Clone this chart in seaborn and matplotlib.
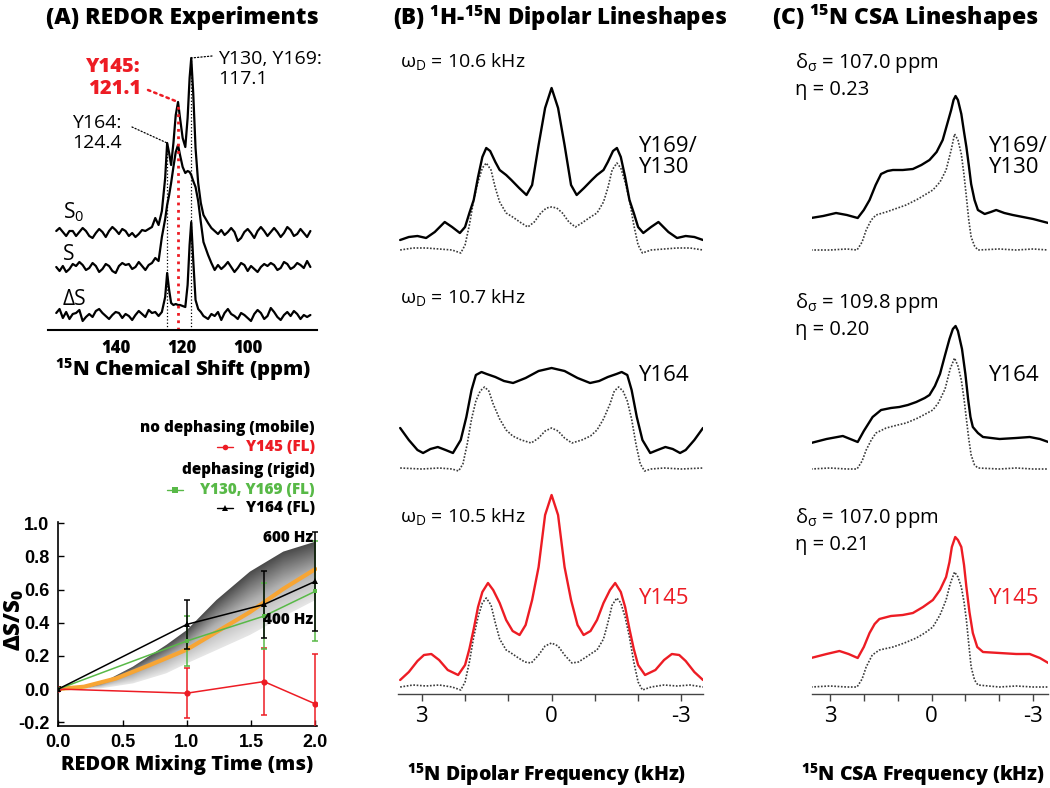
import numpy as np
import pandas as pd
import matplotlib
matplotlib.use('Agg')
import matplotlib.pyplot as plt
import seaborn as sns
from matplotlib.lines import Line2D
from matplotlib.colors import LinearSegmentedColormap

W, H = 1050, 788
RED = '#ED1C24'
GREEN = '#58B947'
ORANGE = '#F7A534'
DOT = '#3a3a3a'

# ---------------- (A) REDOR spectra: height of each trace above its own baseline
ppm_left = np.arange(158, 128, -1)
ppm_peaks = [128, 127, 126, 125, 124.4, 123.8, 123.2, 122.5, 121.8, 121.1, 120.5,
             119.7, 118.9, 118.2, 117.6, 117.1, 116.5, 115.8, 115, 114.2, 113.4]
ppm_right = np.arange(112, 80, -1)

s0_left = [2, 5, 1, -3, 2, 2, -3, 1, 5, 2, -3, -5, 0, 4, 1, -4, 2, 6, 3, -1, 4, 2, -3, 0, -4, -1, 3, 2, 4, 6]
s0_peak = [15, 8, 22, 55, 90, 80, 68, 90, 118, 131, 115, 95, 86, 115, 155, 175, 140, 85, 50, 30, 18]
s0_right = [10, 5, 2, -1, 3, -2, 1, 5, 1, -8, -5, 1, 4, 0, -5, 2, 6, 2, -3, 1, 5, 1, -4, 0, 6, 3, -3, -1, 4, 0, -4, 2]

s_left = [0, -4, 1, -5, -2, 3, 1, 5, 2, -3, -1, 4, 1, -5, -2, 3, 1, -4, -6, 1, 4, 2, 3, -2, 0, 5, 1, -3, 2, 4]
s_peak = [9, 6, 30, 48, 62, 72, 84, 100, 115, 122, 112, 100, 94, 96, 95, 92, 86, 80, 66, 45, 25]
s_right = [12, 4, -3, 2, -2, 1, 5, 0, -5, -1, 4, 2, -4, 1, -2, -5, 0, 3, 1, 4, 2, -3, -1, 5, 3, -2, 0, 4, 2, -1, 6, 0]

ds_left = [2, 6, -3, 3, -4, 1, 2, 5, -6, -2, 1, -2, 4, 6, 2, -1, -4, 0, 3, 2, -3, 1, -1, -5, 0, 4, 1, -2, 5, 2]
ds_peak = [3, -1, 3, 18, 42, 25, 12, 10, 11, 10, 10, 9, 8, 30, 70, 93, 55, 15, 6, 3, -1]
ds_right = [-4, 1, -1, 3, -5, 2, 6, 1, -1, -4, 2, 0, -3, -6, 1, 5, 2, -4, -1, 7, 3, -2, -5, 0, 3, -1, 4, 1, -4, 0, -2, 0]

trace_names = ['S$_\\mathregular{0}$', 'S', '\u0394S']
trace_offsets = [97, 63, 15]
peak_ppm = [124.4, 121.1, 117.1]
peak_labels = ['Y164:\n124.4', 'Y145:\n121.1', 'Y130, Y169:\n117.1']

# ---------------- (A) REDOR dephasing
t_exp = [0.0, 1.0, 1.6, 2.0]
y145 = [0.0, -0.025, 0.045, -0.09]
y130_169 = [0.0, 0.29, 0.44, 0.59]
y164 = [0.0, 0.39, 0.51, 0.65]
err145 = [0.01, 0.15, 0.20, 0.30]
err130_169 = [0.01, 0.15, 0.20, 0.30]
err164 = [0.01, 0.15, 0.20, 0.30]

t_sim = [0.0, 0.2, 0.45, 0.71, 1.0, 1.23, 1.49, 1.75, 2.0]
sim_500 = [0.0, 0.014, 0.064, 0.144, 0.238, 0.344, 0.464, 0.604, 0.724]
t_band = [0.2, 0.33, 0.58, 0.84, 1.0, 1.23, 1.49, 1.75, 2.0]
sim_600 = [0.0, 0.034, 0.135, 0.266, 0.356, 0.537, 0.708, 0.829, 0.889]
sim_400 = [0.0, 0.004, 0.034, 0.095, 0.155, 0.235, 0.326, 0.437, 0.537]

# ---------------- (B) 1H-15N dipolar lineshapes (kHz, height above baseline)
dip_x_top = [3.5, 3.3, 3.1, 2.9, 2.7, 2.47, 2.3, 2.12, 2.0, 1.9, 1.8, 1.7, 1.6, 1.51, 1.42, 1.3, 1.2, 1.05, 0.93,
             0.75, 0.58, 0.45, 0.3, 0.15, 0.0, -0.15, -0.3, -0.45, -0.58, -0.75, -0.93, -1.05, -1.2, -1.3, -1.42,
             -1.51, -1.6, -1.7, -1.8, -1.9, -2.0, -2.12, -2.3, -2.47, -2.7, -2.9, -3.1, -3.3, -3.5]
dip_exp_top = [10, 13, 14, 12, 18, 28, 23, 17, 23, 37, 50, 73, 93, 102, 99, 88, 80, 75, 70, 62, 55, 65, 105, 142,
               162, 142, 105, 65, 55, 62, 70, 75, 80, 88, 99, 102, 93, 73, 50, 37, 23, 17, 23, 28, 18, 12, 14, 13, 10]
dip_xs_top = [3.5, 3.2, 2.9, 2.6, 2.3, 2.1, 2.0, 1.9, 1.8, 1.7, 1.6, 1.51, 1.4, 1.3, 1.2, 1.05, 0.9, 0.7, 0.55,
              0.4, 0.25, 0.12, 0.0, -0.12, -0.25, -0.4, -0.55, -0.7, -0.9, -1.05, -1.2, -1.3, -1.4, -1.51, -1.6,
              -1.7, -1.8, -1.9, -2.0, -2.1, -2.3, -2.6, -2.9, -3.2, -3.5]
dip_sim_top = [0, 2, 2, 1, 0, -3, 5, 25, 50, 68, 82, 87, 80, 62, 48, 37, 33, 27, 23, 28, 37, 42, 43, 42, 37, 28,
               23, 27, 33, 37, 48, 62, 80, 87, 82, 68, 50, 25, 5, -3, 0, 1, 2, 2, 0]

dip_x_mid = [3.5, 3.3, 3.1, 2.97, 2.8, 2.63, 2.45, 2.28, 2.1, 1.97, 1.85, 1.75, 1.62, 1.5, 1.3, 1.1, 0.89, 0.6,
             0.3, 0.0, -0.3, -0.6, -0.89, -1.1, -1.3, -1.5, -1.62, -1.75, -1.85, -1.97, -2.1, -2.28, -2.45, -2.63,
             -2.8, -2.97, -3.1, -3.3, -3.5]
dip_exp_mid = [41, 29, 19, 16, 20, 22, 19, 16, 29, 52, 79, 94, 97, 95, 92, 88, 86, 91, 98, 101, 98, 91, 86, 88,
               92, 95, 97, 94, 79, 52, 29, 16, 19, 22, 20, 16, 19, 29, 41]
dip_xs_mid = [3.5, 3.0, 2.6, 2.3, 2.15, 2.05, 1.95, 1.85, 1.75, 1.65, 1.55, 1.45, 1.35, 1.2, 1.05, 0.9, 0.7, 0.47,
              0.3, 0.15, 0.0, -0.15, -0.3, -0.47, -0.7, -0.9, -1.05, -1.2, -1.35, -1.45, -1.55, -1.65, -1.75,
              -1.85, -1.95, -2.05, -2.15, -2.3, -2.6, -3.0, -3.5]
dip_sim_mid = [1, 0, 1, 0, -2, 5, 25, 50, 68, 78, 82, 78, 65, 50, 39, 33, 29, 26, 31, 38, 41, 38, 31, 26, 29, 33,
               39, 50, 65, 78, 82, 78, 68, 50, 25, 5, -2, 0, 1, 0, 1]

dip_x_bot = [3.5, 3.3, 3.1, 2.95, 2.78, 2.6, 2.4, 2.16, 2.0, 1.9, 1.8, 1.7, 1.6, 1.47, 1.35, 1.2, 1.05, 0.9, 0.74,
             0.6, 0.45, 0.3, 0.15, 0.0, -0.15, -0.3, -0.45, -0.6, -0.74, -0.9, -1.05, -1.2, -1.35, -1.47, -1.6,
             -1.7, -1.8, -1.9, -2.0, -2.16, -2.4, -2.6, -2.78, -2.95, -3.1, -3.3, -3.5]
dip_exp_bot = [7, 15, 26, 32, 33, 27, 17, 12, 22, 38, 58, 80, 95, 104, 97, 84, 67, 56, 52, 62, 87, 120, 172, 192,
               172, 120, 87, 62, 52, 56, 67, 84, 97, 104, 95, 80, 58, 38, 22, 12, 17, 27, 33, 32, 26, 15, 7]
dip_xs_bot = [3.5, 3.2, 2.9, 2.6, 2.3, 2.1, 2.0, 1.9, 1.8, 1.7, 1.6, 1.51, 1.4, 1.3, 1.2, 1.05, 0.97, 0.8, 0.62,
              0.47, 0.3, 0.15, 0.0, -0.15, -0.3, -0.47, -0.62, -0.8, -0.97, -1.05, -1.2, -1.3, -1.4, -1.51, -1.6,
              -1.7, -1.8, -1.9, -2.0, -2.1, -2.3, -2.6, -2.9, -3.2, -3.5]
dip_sim_bot = [0, 2, 1, 2, 0, -3, 5, 25, 50, 70, 84, 89, 82, 64, 48, 37, 35, 30, 25, 24, 32, 41, 44, 41, 32, 24,
               25, 30, 35, 37, 48, 64, 82, 89, 84, 70, 50, 25, 5, -3, 0, 2, 1, 2, 0]

dip_labels = ['10.6', '10.7', '10.5']

# ---------------- (C) 15N CSA lineshapes (kHz, height above baseline)
csa_x_top = [3.56, 3.2, 2.82, 2.5, 2.18, 2.0, 1.83, 1.65, 1.49, 1.3, 1.14, 0.85, 0.55, 0.3, 0.06, -0.15, -0.33,
             -0.48, -0.58, -0.65, -0.71, -0.78, -0.88, -0.96, -1.03, -1.1, -1.17, -1.27, -1.37, -1.57, -1.75,
             -1.91, -2.15, -2.4, -2.7, -3.0, -3.45]
csa_exp_top = [32, 34, 37, 35, 32, 40, 50, 65, 76, 79, 80, 80, 81, 85, 90, 98, 110, 128, 140, 150, 154, 150, 136,
               118, 103, 85, 66, 50, 40, 36, 38, 40, 37, 35, 33, 31, 27]
csa_xs_top = [3.56, 3.0, 2.5, 2.2, 2.05, 1.93, 1.78, 1.64, 1.34, 1.0, 0.75, 0.4, -0.04, -0.25, -0.43, -0.58, -0.68,
              -0.78, -0.88, -0.96, -1.03, -1.1, -1.17, -1.27, -1.37, -2.0, -2.5, -3.0, -3.45]
csa_sim_top = [0, 0, 1, 0, 8, 20, 30, 35, 38, 42, 45, 51, 60, 68, 80, 100, 116, 110, 96, 75, 53, 30, 13, 4, 0, 1,
               0, 1, 0]

csa_x_mid = [3.56, 3.1, 2.62, 2.4, 2.18, 2.0, 1.87, 1.74, 1.49, 1.2, 0.95, 0.7, 0.45, 0.2, 0.06, -0.1, -0.25, -0.4,
             -0.53, -0.63, -0.71, -0.78, -0.9, -1.0, -1.08, -1.15, -1.22, -1.37, -1.52, -2.01, -2.5, -2.9, -3.2,
             -3.45]
csa_exp_mid = [26, 30, 33, 30, 27, 38, 45, 52, 59, 61, 62, 64, 67, 71, 74, 83, 95, 114, 130, 140, 143, 138, 120,
               95, 70, 52, 42, 36, 32, 30, 31, 32, 30, 27]
csa_xs_mid = [3.56, 3.0, 2.5, 2.2, 2.05, 1.93, 1.78, 1.64, 1.34, 1.0, 0.75, 0.4, -0.04, -0.2, -0.4, -0.55, -0.68,
              -0.78, -0.88, -0.96, -1.03, -1.1, -1.17, -1.27, -1.37, -2.0, -2.5, -3.0, -3.45]
csa_sim_mid = [0, 1, 0, 0, 8, 19, 29, 36, 41, 44, 46, 51, 59, 66, 80, 100, 111, 103, 89, 70, 50, 30, 14, 4, 1, 0,
               1, 0, 0]

csa_x_bot = [3.56, 3.1, 2.72, 2.45, 2.18, 2.0, 1.83, 1.68, 1.54, 1.2, 0.85, 0.55, 0.25, -0.04, -0.25, -0.43, -0.53,
             -0.6, -0.7, -0.78, -0.88, -0.96, -1.03, -1.12, -1.22, -1.35, -1.52, -2.01, -2.5, -2.9, -3.2, -3.45]
csa_exp_bot = [29, 33, 36, 33, 29, 40, 54, 63, 68, 71, 72, 74, 80, 87, 97, 110, 125, 140, 150, 147, 140, 122, 100,
               75, 54, 40, 35, 34, 33, 33, 29, 24]
csa_xs_bot = [3.56, 3.0, 2.5, 2.2, 2.05, 1.93, 1.75, 1.54, 1.14, 0.8, 0.45, 0.2, -0.04, -0.25, -0.43, -0.55, -0.68,
              -0.78, -0.88, -0.96, -1.03, -1.1, -1.17, -1.27, -1.37, -2.0, -2.5, -3.0, -3.45]
csa_sim_bot = [0, 1, 0, 0, 8, 20, 32, 37, 40, 44, 49, 54, 60, 72, 87, 103, 115, 110, 100, 85, 67, 43, 20, 7, 2, 0,
               1, 0, 0]

csa_delta = ['107.0', '109.8', '107.0']
csa_eta = ['0.23', '0.20', '0.21']
residues = ['Y169/\nY130', 'Y164', 'Y145']
stack_offsets = [444, 225, 7]

# ---------------- figure
sns.set_theme(style='white')
plt.rcParams['font.family'] = ['Open Sans', 'DejaVu Sans']
plt.rcParams['axes.unicode_minus'] = False
plt.rcParams['text.color'] = 'black'
plt.rcParams['xtick.color'] = 'black'
plt.rcParams['ytick.color'] = 'black'
fig = plt.figure(figsize=(10.5, 7.88), dpi=100)


def rect(l, t, r, b):
    return [l / W, 1 - b / H, (r - l) / W, (b - t) / H]


def fxy(px, py):
    return (px / W, 1 - py / H)


def ftext(px, py, s, **kw):
    fig.text(px / W, 1 - py / H, s, **kw)


def trace(ax, x, y, offset, color, ls='-', lw=1.6):
    df = pd.DataFrame({'x': x, 'y': np.asarray(y, float) + offset})
    sns.lineplot(data=df, x='x', y='y', ax=ax, color=color, lw=lw, linestyle=ls,
                 sort=False, estimator=None)
    ax.set(xlabel='', ylabel='')


HEAVY = 800

# panel titles
ftext(182, 18, '(A) REDOR Experiments', ha='center', va='center', size=16.5, weight=HEAVY)
ftext(560, 18, '(B) $^\\mathregular{1}$H-$^\\mathregular{15}$N Dipolar Lineshapes', ha='center', va='center',
      size=16, weight=HEAVY)
ftext(905, 18, '(C) $^\\mathregular{15}$N CSA Lineshapes', ha='center', va='center', size=16.5, weight=HEAVY)

# ---- (A) spectra
axA = fig.add_axes(rect(48, 40, 317, 330))
ppm = np.concatenate([ppm_left, ppm_peaks, ppm_right])
spectra = [s0_left + s0_peak + s0_right, s_left + s_peak + s_right, ds_left + ds_peak + ds_right]
for vals, off in zip(spectra, trace_offsets):
    trace(axA, ppm, vals, off, 'black', lw=1.6)
axA.set_xlim(160.5, 79)
axA.set_ylim(0, 290)
sns.despine(ax=axA, left=True)
axA.spines['bottom'].set_color('black')
axA.spines['bottom'].set_linewidth(1.5)
axA.set_yticks([])
axA.set_xticks([140, 120, 100])
axA.set_xticklabels(['140', '120', '100'], weight=HEAVY, size=12)
axA.tick_params(axis='x', length=0, pad=7)

s0_top = [s0_peak[ppm_peaks.index(p)] + trace_offsets[0] for p in peak_ppm]
axA.vlines([peak_ppm[0], peak_ppm[2]], 0, [s0_top[0], s0_top[2]], colors='black', linestyles=':', lw=0.9)
axA.vlines(peak_ppm[1], 0, s0_top[1], colors=RED, linestyles=':', lw=2)

label_px = [(72, 133), (141, 78), (218, 69)]
leader_px = [(132, 127), (148, 90), (212, 56)]
for i, (p, top, lab) in enumerate(zip(peak_ppm, s0_top, peak_labels)):
    red = i == 1
    ftext(*label_px[i], lab, ha='right' if red else 'left', va='center', size=14.5 if red else 14,
          linespacing=1.15, color=RED if red else 'black', weight=HEAVY if red else 'normal')
    axA.annotate('', xy=(p, top), xycoords='data', xytext=fxy(*leader_px[i]), textcoords='figure fraction',
                 arrowprops=dict(arrowstyle='-', linestyle=':', color=RED if red else 'black',
                                 lw=1.8 if red else 0.9, shrinkA=0, shrinkB=0))
for name, py in zip(trace_names, [212, 255, 300]):
    ftext(63, py, name, ha='left', va='center', size=15)
ftext(183, 370, '$^\\mathregular{15}$N Chemical Shift (ppm)', ha='center', va='center', size=14.5, weight=HEAVY)

# ---- (A) REDOR curves
axR = fig.add_axes(rect(57.7, 521.6, 316.7, 725.5))
poly = axR.fill_between(t_band, sim_400, sim_600, color='none', lw=0)
tt = np.linspace(0, 2, 300)
yy = np.linspace(-0.05, 1.0, 300)
T, Y = np.meshgrid(tt, yy)
lo = np.interp(T, t_band, sim_400)
hi = np.interp(T, t_band, sim_600)
frac = np.clip((Y - lo) / np.maximum(hi - lo, 1e-3), 0, 1)
band_cmap = LinearSegmentedColormap.from_list('band', ['#e6e6e6', '#b0b0b0', '#474747'])
img = axR.imshow(frac, extent=[0, 2, -0.05, 1.0], origin='lower', cmap=band_cmap, vmin=0, vmax=1,
                 aspect='auto', zorder=1)
img.set_clip_path(poly.get_paths()[0], transform=axR.transData)
sns.lineplot(x=t_sim, y=sim_500, ax=axR, color=ORANGE, lw=3, zorder=2)

series = [(y145, err145, RED, 'o', 4.5), (y130_169, err130_169, GREEN, 's', 3.5), (y164, err164, 'black', '^', 4)]
for yv, ev, col, mk, ms in series:
    axR.errorbar(t_exp, yv, yerr=ev, fmt='none', ecolor=col, elinewidth=1.1, capsize=2.5, capthick=1.1, zorder=3)
    sns.lineplot(x=t_exp, y=yv, ax=axR, color=col, lw=1.1, marker=mk, markersize=ms, markeredgewidth=0,
                 zorder=4)
axR.set_xlim(-0.005, 2.01)
axR.set_ylim(-0.22, 1.01)
axR.set_xticks([0.0, 0.5, 1.0, 1.5, 2.0])
axR.set_xticklabels(['0.0', '0.5', '1.0', '1.5', '2.0'])
axR.set_yticks([-0.2, 0.0, 0.2, 0.4, 0.6, 0.8, 1.0])
axR.set_yticklabels(['-0.2', '0.0', '0.2', '0.4', '0.6', '0.8', '1.0'])
axR.tick_params(direction='in', length=4, width=1, left=True, bottom=True, labelsize=13,
                labelfontfamily='Liberation Sans', pad=6)
for lbl in axR.get_xticklabels() + axR.get_yticklabels():
    lbl.set_fontweight('bold')
sns.despine(ax=axR)
for sp in ['left', 'bottom']:
    axR.spines[sp].set_color('black')
    axR.spines[sp].set_linewidth(1.2)
axR.set(xlabel='', ylabel='')
ftext(313, 538, '600 Hz', ha='right', va='center', size=11, weight=HEAVY)
ftext(313, 620, '400 Hz', ha='right', va='center', size=11, weight=HEAVY)
ftext(187, 765, 'REDOR Mixing Time (ms)', ha='center', va='center', size=14.5, weight=HEAVY)
ftext(14, 620, '\u0394S/S$_\\mathregular{0}$', ha='center', va='center', size=16, weight=HEAVY, rotation=90)

# legend
ftext(315, 428, 'no dephasing (mobile)', ha='right', va='center', size=11, weight=HEAVY)
ftext(315, 470, 'dephasing (rigid)', ha='right', va='center', size=11, weight=HEAVY)
legend_rows = [('Y145 (FL)', RED, 'o', 447, 217), ('Y130, Y169 (FL)', GREEN, 's', 490, 167),
               ('Y164 (FL)', 'black', '^', 508, 217)]
for txt, col, mk, py, px0 in legend_rows:
    ftext(315, py, txt, ha='right', va='center', size=11, weight=HEAVY, color=col)
    xs = [px0 / W, (px0 + 8) / W, (px0 + 16) / W]
    fig.add_artist(Line2D(xs, [1 - py / H] * 3, color=col, lw=1, marker=mk, ms=4, markevery=[1],
                          markeredgewidth=0, transform=fig.transFigure))

# ---- (B) and (C) stacked lineshapes
dip_sets = [(dip_x_top, dip_exp_top, dip_xs_top, dip_sim_top), (dip_x_mid, dip_exp_mid, dip_xs_mid, dip_sim_mid),
            (dip_x_bot, dip_exp_bot, dip_xs_bot, dip_sim_bot)]
csa_sets = [(csa_x_top, csa_exp_top, csa_xs_top, csa_sim_top), (csa_x_mid, csa_exp_mid, csa_xs_mid, csa_sim_mid),
            (csa_x_bot, csa_exp_bot, csa_xs_bot, csa_sim_bot)]

axB = fig.add_axes(rect(398, 40, 703, 694))
axC = fig.add_axes(rect(812, 40, 1048, 694))
for ax, sets, lim in [(axB, dip_sets, (3.55, -3.5)), (axC, csa_sets, (3.53, -3.44))]:
    for i, ((xe, ye, xs, ys), off) in enumerate(zip(sets, stack_offsets)):
        col = RED if i == 2 else 'black'
        trace(ax, xs, ys, off, DOT, ls=(0, (1, 1)), lw=1.2)
        trace(ax, xe, ye, off, col, lw=1.7)
    ax.set_xlim(*lim)
    ax.set_ylim(0, 654)
    sns.despine(ax=ax, left=True)
    ax.spines['bottom'].set_color('#444444')
    ax.spines['bottom'].set_linewidth(1)
    ax.set_yticks([])
    ax.set_xticks([3, 0, -3])
    ax.set_xticklabels(['3', '0', '-3'], size=16)
    ax.set_xticks([2, 1, -1, -2], minor=True)
    ax.tick_params(axis='x', which='both', direction='out', length=5, width=1, color='#444444',
                   bottom=True, pad=4)

for lab, py in zip(dip_labels, [62, 298, 517]):
    ftext(400, py, '\u03c9$_\\mathregular{D}$ = ' + lab + ' kHz', ha='left', va='center', size=14)
for d, e, py in zip(csa_delta, csa_eta, [63, 303, 518]):
    ftext(795, py, '\u03b4$_\\mathregular{\u03c3}$ = ' + d + ' ppm', ha='left', va='center', size=14.5)
    ftext(795, py + 27, '\u03b7 = ' + e, ha='left', va='center', size=14.5)
for i, (res, py) in enumerate(zip(residues, [157, 375, 598])):
    col = RED if i == 2 else 'black'
    ftext(638, py, res, ha='left', va='center', size=16, color=col, linespacing=1.0)
    ftext(988, py, res, ha='left', va='center', size=16, color=col, linespacing=1.0)

ftext(547, 775, '$^\\mathregular{15}$N Dipolar Frequency (kHz)', ha='center', va='center', size=14,
      weight=HEAVY)
ftext(923, 775, '$^\\mathregular{15}$N CSA Frequency (kHz)', ha='center', va='center', size=14,
      weight=HEAVY)

fig.savefig('out.png', dpi=100)
